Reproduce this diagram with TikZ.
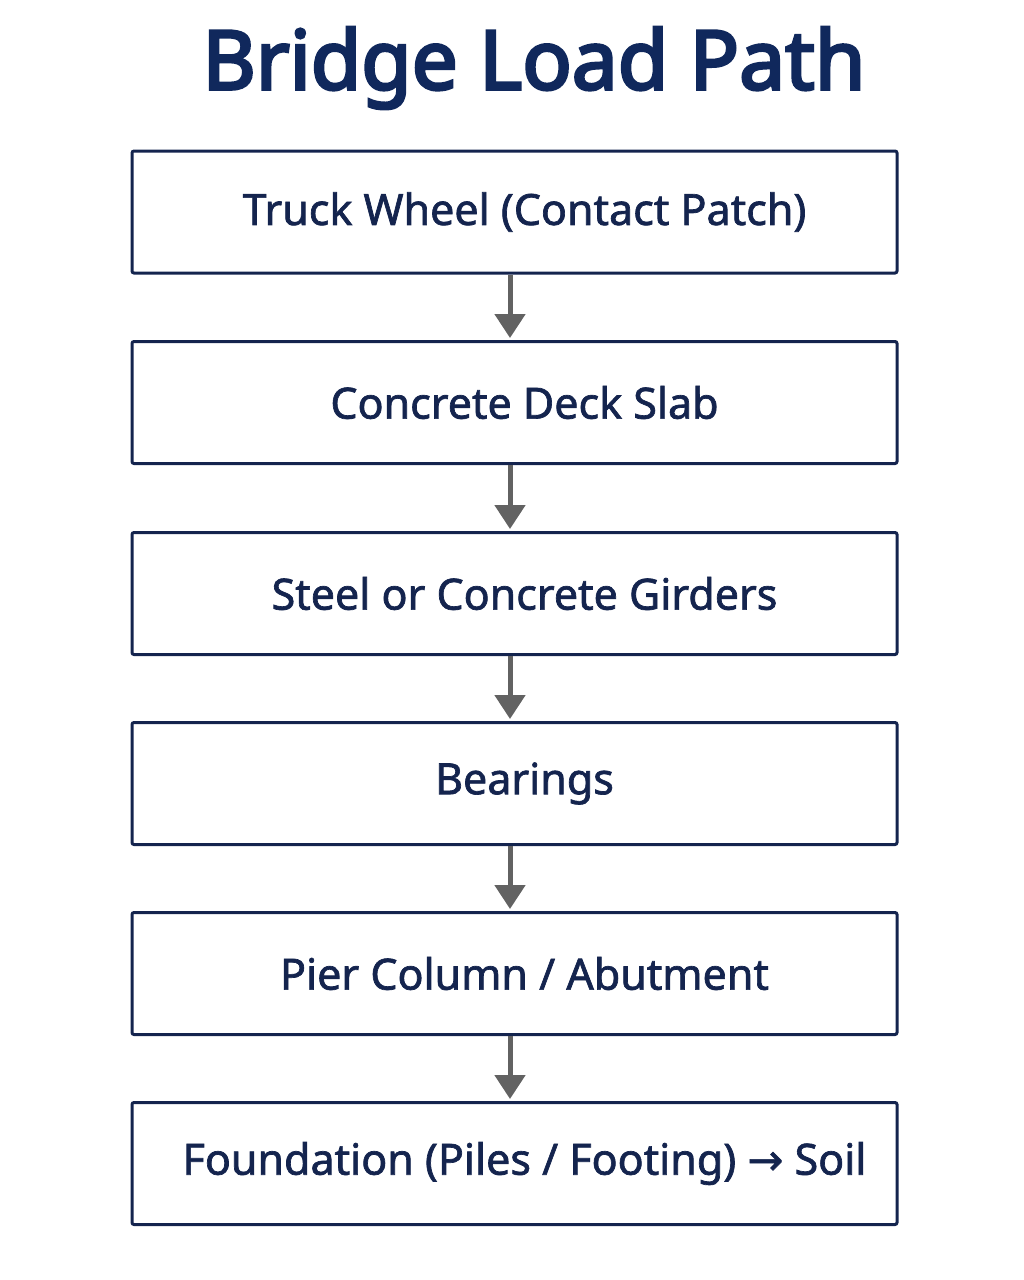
\documentclass[tikz,border=0pt]{standalone}
\usepackage{fontspec}
\setmainfont{Noto Sans}
\newfontfamily\titlefont{Noto Sans}[FakeBold=3.6]
\newfontfamily\stagefont{Noto Sans}[FakeBold=1.6]
\newfontfamily\arrowfont{DejaVu Sans}[FakeBold=1.4]
\usetikzlibrary{arrows.meta}

\definecolor{navyline}{RGB}{20,36,78}
\definecolor{titlenavy}{RGB}{16,40,92}
\definecolor{arrowgray}{RGB}{98,98,98}

\tikzset{
  stagebox/.style={draw=navyline, line width=3pt, rounded corners=2pt,
    minimum width=765pt, minimum height=122pt, inner sep=0pt},
  stagetext/.style={text=navyline, font=\stagefont\fontsize{43}{50}\selectfont, xshift=10pt},
  loadarrow/.style={draw=arrowgray, line width=5pt,
    -{Triangle[length=24pt, width=30pt]}, shorten >=2pt}
}

\begin{document}
\begin{tikzpicture}[x=1pt,y=-1pt]

  \useasboundingbox (0,0) rectangle (1024,1280);

  % Title
  \node[text=titlenavy, font=\titlefont\fontsize{82}{94}\selectfont] (title) at (534,68) {Bridge Load Path};

  % Stages of the load path, top to bottom
  \foreach \yv/\nm/\Lb in {213/wheel/{Truck Wheel (Contact Patch)},
      403.5/deck/{Concrete Deck Slab},
      594.5/girders/{Steel or Concrete Girders},
      784.5/bearings/{Bearings},
      974.5/pier/{Pier Column / Abutment},
      1164.5/found/{Foundation (Piles / Footing) {\arrowfont →} Soil}}{
    \node[stagebox] (\nm) at (514.5,\yv-1) {};
    \node[stagetext] (\nm-t) at (\nm.center) {\Lb};
  }

  % Arrows between stages
  \foreach \a/\b in {wheel/deck, deck/girders, girders/bearings, bearings/pier, pier/found}{
    \draw[loadarrow] (\a.south -| 510,0) -- (\b.north -| 510,0);
  }

\end{tikzpicture}
\end{document}
